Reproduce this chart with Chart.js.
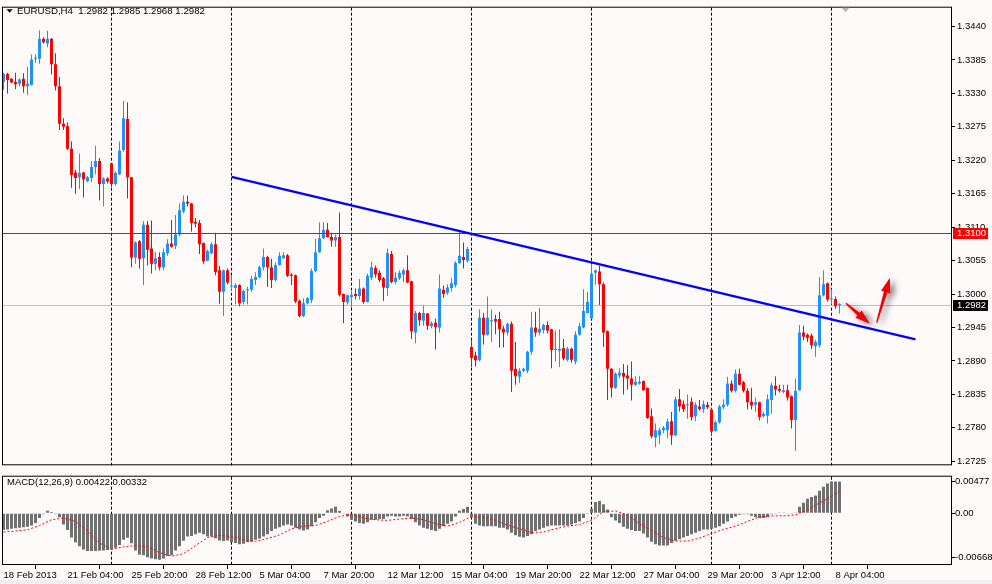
<!DOCTYPE html>
<html><head><meta charset="utf-8">
<script src="https://cdn.jsdelivr.net/npm/chart.js@4.4.1/dist/chart.umd.min.js"></script>
<style>
html,body{margin:0;padding:0;background:#FFFAFA;}
#wrap{position:relative;width:992px;height:584px;overflow:hidden;background:#FFFAFA;}
#c1{position:absolute;left:0;top:0;}
#c2{position:absolute;left:0;top:471px;}
#strip{position:absolute;left:0;top:580px;width:992px;height:4px;background:#F0F0F0;}
</style></head><body>
<div id="wrap"><div id="strip"></div><canvas id="c1" width="992" height="473"></canvas><canvas id="c2" width="992" height="113"></canvas></div>
<script>
// ---------- DATA ----------
const symbolTitle = "EURUSD,H4";
const macdTitle = "MACD(12,26,9) 0.00422 0.00332";
const opens = [
1.3349,1.3362,1.3354,1.3349,1.3346,1.3354,1.3342,1.3344,1.3387,1.3387,
1.3420,1.3412,1.3420,1.3378,1.3342,1.3280,1.3276,1.3239,1.3200,1.3192,
1.3200,1.3186,1.3191,1.3209,1.3219,1.3181,1.3190,1.3215,1.3181,1.3197,
1.3237,1.3288,1.3192,1.3060,1.3087,1.3059,1.3114,1.3075,1.3050,1.3061,
1.3044,1.3067,1.3083,1.3079,1.3098,1.3136,1.3152,1.3149,1.3119,1.3117,
1.3084,1.3055,1.3067,1.3082,1.3039,1.3004,1.3039,1.3012,1.3010,1.3015,
1.2987,1.3006,1.3007,1.3023,1.3028,1.3044,1.3061,1.3044,1.3023,1.3048,
1.3059,1.3064,1.3032,1.3031,1.2989,1.2964,1.2985,1.2990,1.3038,1.3069,
1.3092,1.3106,1.3094,1.3088,1.3094,1.3000,1.2986,1.2995,1.3000,1.2997,
1.3009,1.2987,1.3027,1.3043,1.3035,1.3026,1.3010,1.3066,1.3020,1.3026,
1.3032,1.3039,1.3021,1.2937,1.2969,1.2956,1.2968,1.2947,1.2953,1.2945,
1.3007,1.3002,1.3010,1.3015,1.3051,1.3061,1.3055,1.2913,1.2899,1.2891,
1.2961,1.2933,1.2955,1.2959,1.2959,1.2943,1.2937,1.2951,1.2877,1.2864,
1.2874,1.2874,1.2905,1.2945,1.2937,1.2941,1.2949,1.2942,1.2908,1.2907,
1.2911,1.2892,1.2910,1.2889,1.2933,1.2945,1.2969,1.2960,1.3035,1.3037,
1.3016,1.2939,1.2877,1.2846,1.2866,1.2870,1.2866,1.2861,1.2851,1.2853,
1.2857,1.2846,1.2799,1.2764,1.2768,1.2776,1.2776,1.2791,1.2768,1.2827,
1.2819,1.2817,1.2823,1.2799,1.2815,1.2811,1.2818,1.2810,1.2775,1.2789,
1.2814,1.2818,1.2853,1.2841,1.2869,1.2855,1.2841,1.2823,1.2818,1.2822,
1.2799,1.2800,1.2826,1.2849,1.2844,1.2839,1.2842,1.2832,1.2793,1.2842,
1.2937,1.2933,1.2932,1.2914,1.2916,1.2998,1.3018,1.2991,1.2992,1.2982];
const highs = [
1.3364,1.3364,1.3355,1.3364,1.3355,1.3363,1.3374,1.3394,1.3394,1.3434,
1.3422,1.3433,1.3421,1.3396,1.3357,1.3289,1.3282,1.3251,1.3204,1.3231,
1.3201,1.3194,1.3219,1.3244,1.3224,1.3192,1.3192,1.3215,1.3202,1.3251,
1.3318,1.3315,1.3192,1.3087,1.3089,1.3120,1.3120,1.3121,1.3069,1.3069,
1.3075,1.3090,1.3122,1.3130,1.3149,1.3162,1.3162,1.3150,1.3125,1.3122,
1.3085,1.3073,1.3085,1.3101,1.3046,1.3040,1.3042,1.3031,1.3018,1.3016,
1.3007,1.3012,1.3030,1.3036,1.3047,1.3075,1.3063,1.3058,1.3052,1.3069,
1.3069,1.3066,1.3034,1.3032,1.2991,1.2993,1.2995,1.3042,1.3091,1.3118,
1.3118,1.3117,1.3101,1.3098,1.3134,1.3001,1.2999,1.3007,1.3009,1.3025,
1.3011,1.3034,1.3053,1.3047,1.3039,1.3028,1.3075,1.3071,1.3036,1.3039,
1.3042,1.3064,1.3022,1.2972,1.2971,1.2981,1.2969,1.2955,1.2960,1.3032,
1.3014,1.3016,1.3027,1.3054,1.3105,1.3085,1.3078,1.2923,1.2905,1.2975,
1.2969,1.2996,1.2975,1.2966,1.2971,1.2948,1.2953,1.2955,1.2921,1.2878,
1.2879,1.2907,1.2971,1.2971,1.2977,1.2951,1.2955,1.2943,1.2940,1.2942,
1.2926,1.2913,1.2912,1.2939,1.2953,1.3008,1.3004,1.3050,1.3040,1.3046,
1.3019,1.2940,1.2878,1.2871,1.2878,1.2885,1.2883,1.2889,1.2865,1.2865,
1.2858,1.2846,1.2812,1.2787,1.2780,1.2783,1.2795,1.2806,1.2831,1.2844,
1.2825,1.2835,1.2830,1.2822,1.2826,1.2825,1.2823,1.2812,1.2792,1.2818,
1.2827,1.2864,1.2858,1.2876,1.2877,1.2857,1.2845,1.2846,1.2830,1.2823,
1.2806,1.2835,1.2854,1.2865,1.2851,1.2851,1.2851,1.2833,1.2861,1.2949,
1.2948,1.2935,1.2935,1.2925,1.3028,1.3039,1.3019,1.3008,1.2996,1.2985];
const lows = [
1.3336,1.3330,1.3347,1.3337,1.3342,1.3331,1.3327,1.3343,1.3380,1.3379,
1.3412,1.3406,1.3361,1.3335,1.3270,1.3270,1.3237,1.3175,1.3165,1.3173,
1.3159,1.3184,1.3184,1.3197,1.3154,1.3144,1.3182,1.3176,1.3178,1.3196,
1.3234,1.3157,1.3044,1.3050,1.3042,1.3015,1.3047,1.3034,1.3039,1.3039,
1.3039,1.3063,1.3076,1.3074,1.3095,1.3133,1.3144,1.3103,1.3110,1.3066,
1.3050,1.3054,1.3066,1.3031,1.2984,1.2964,1.3016,1.3007,1.2983,1.2980,
1.2983,1.2983,1.3004,1.3015,1.3026,1.3039,1.3012,1.3010,1.3021,1.3047,
1.3058,1.3028,1.3015,1.2985,1.2962,1.2962,1.2983,1.2985,1.3036,1.3068,
1.3090,1.3093,1.3078,1.3078,1.2996,1.2952,1.2983,1.2977,1.2991,1.2991,
1.2984,1.2986,1.3023,1.3027,1.3020,1.2989,1.2997,1.3018,1.3016,1.3023,
1.3020,1.3018,1.2926,1.2919,1.2948,1.2948,1.2941,1.2944,1.2909,1.2937,
1.2994,1.2999,1.3004,1.3011,1.3050,1.3042,1.3052,1.2880,1.2881,1.2889,
1.2917,1.2932,1.2921,1.2934,1.2912,1.2912,1.2932,1.2839,1.2851,1.2854,
1.2872,1.2870,1.2900,1.2930,1.2932,1.2935,1.2935,1.2878,1.2889,1.2880,
1.2891,1.2889,1.2887,1.2884,1.2932,1.2944,1.2968,1.2959,1.3015,1.2982,
1.2913,1.2826,1.2830,1.2844,1.2862,1.2835,1.2843,1.2825,1.2849,1.2851,
1.2841,1.2795,1.2763,1.2748,1.2753,1.2771,1.2763,1.2752,1.2766,1.2807,
1.2806,1.2795,1.2792,1.2791,1.2808,1.2805,1.2811,1.2768,1.2774,1.2787,
1.2811,1.2815,1.2838,1.2838,1.2850,1.2838,1.2810,1.2810,1.2806,1.2792,
1.2797,1.2787,1.2803,1.2833,1.2838,1.2837,1.2825,1.2779,1.2742,1.2841,
1.2924,1.2921,1.2910,1.2897,1.2912,1.2996,1.2988,1.2983,1.2976,1.2968];
const closes = [
1.3362,1.3352,1.3348,1.3345,1.3353,1.3342,1.3346,1.3386,1.3388,1.3420,
1.3414,1.3420,1.3378,1.3342,1.3280,1.3275,1.3239,1.3196,1.3191,1.3199,
1.3189,1.3192,1.3209,1.3219,1.3181,1.3190,1.3185,1.3181,1.3199,1.3236,
1.3289,1.3192,1.3060,1.3085,1.3058,1.3114,1.3073,1.3050,1.3059,1.3044,
1.3069,1.3083,1.3078,1.3098,1.3138,1.3152,1.3149,1.3117,1.3116,1.3082,
1.3054,1.3071,1.3082,1.3036,1.3004,1.3039,1.3019,1.3013,1.3015,1.2985,
1.3005,1.3008,1.3025,1.3028,1.3044,1.3061,1.3044,1.3023,1.3048,1.3063,
1.3064,1.3030,1.3030,1.2988,1.2964,1.2985,1.2993,1.3038,1.3069,1.3092,
1.3106,1.3094,1.3088,1.3094,1.2999,1.2987,1.2998,1.2999,1.2997,1.3009,
1.2987,1.3030,1.3044,1.3032,1.3023,1.3011,1.3067,1.3020,1.3027,1.3035,
1.3039,1.3019,1.2939,1.2969,1.2957,1.2969,1.2948,1.2952,1.2946,1.3009,
1.3000,1.3011,1.3018,1.3051,1.3063,1.3056,1.3074,1.2895,1.2891,1.2961,
1.2933,1.2961,1.2957,1.2955,1.2942,1.2937,1.2951,1.2874,1.2865,1.2874,
1.2877,1.2905,1.2945,1.2937,1.2943,1.2949,1.2940,1.2908,1.2910,1.2910,
1.2894,1.2910,1.2892,1.2933,1.2947,1.2972,1.2987,1.3034,1.3039,1.3016,
1.2937,1.2877,1.2846,1.2869,1.2871,1.2864,1.2861,1.2851,1.2856,1.2856,
1.2842,1.2796,1.2766,1.2776,1.2776,1.2780,1.2790,1.2768,1.2827,1.2815,
1.2811,1.2819,1.2798,1.2818,1.2811,1.2819,1.2814,1.2774,1.2789,1.2815,
1.2818,1.2853,1.2841,1.2869,1.2851,1.2841,1.2822,1.2817,1.2822,1.2798,
1.2803,1.2827,1.2850,1.2843,1.2841,1.2842,1.2830,1.2793,1.2841,1.2937,
1.2930,1.2928,1.2916,1.2921,1.2998,1.3016,1.2991,1.2992,1.2980,1.2982];
const macd = [
-0.00253,-0.00243,-0.00233,-0.00224,-0.00219,-0.00209,-0.00204,-0.00185,-0.00146,-0.00073,
-0.00015,0.00039,0.00019,-0.00015,-0.00058,-0.00170,-0.00253,-0.00365,-0.00437,-0.00496,
-0.00544,-0.00569,-0.00569,-0.00569,-0.00564,-0.00559,-0.00554,-0.00544,-0.00520,-0.00476,
-0.00399,-0.00369,-0.00452,-0.00559,-0.00622,-0.00632,-0.00661,-0.00680,-0.00690,-0.00700,
-0.00680,-0.00642,-0.00632,-0.00559,-0.00496,-0.00413,-0.00350,-0.00340,-0.00316,-0.00292,
-0.00316,-0.00350,-0.00350,-0.00374,-0.00408,-0.00418,-0.00408,-0.00437,-0.00447,-0.00467,
-0.00457,-0.00437,-0.00428,-0.00399,-0.00379,-0.00350,-0.00316,-0.00267,-0.00233,-0.00209,
-0.00185,-0.00170,-0.00185,-0.00219,-0.00243,-0.00258,-0.00243,-0.00194,-0.00136,-0.00073,
-0.00039,0.00044,0.00073,0.00097,0.00034,-0.00010,-0.00049,-0.00097,-0.00122,-0.00146,
-0.00156,-0.00136,-0.00097,-0.00097,-0.00087,-0.00087,-0.00049,-0.00039,-0.00049,-0.00049,
-0.00039,-0.00049,-0.00087,-0.00136,-0.00185,-0.00219,-0.00233,-0.00253,-0.00267,-0.00233,
-0.00194,-0.00156,-0.00122,-0.00049,0.00039,0.00063,0.00097,-0.00063,-0.00156,-0.00185,
-0.00194,-0.00194,-0.00194,-0.00194,-0.00219,-0.00219,-0.00243,-0.00292,-0.00330,-0.00355,
-0.00365,-0.00340,-0.00316,-0.00267,-0.00243,-0.00219,-0.00194,-0.00185,-0.00185,-0.00185,
-0.00185,-0.00185,-0.00170,-0.00146,-0.00122,-0.00073,-0.00010,0.00073,0.00170,0.00185,
0.00136,0.00058,-0.00058,-0.00107,-0.00146,-0.00204,-0.00233,-0.00253,-0.00267,-0.00267,
-0.00306,-0.00365,-0.00428,-0.00467,-0.00486,-0.00486,-0.00486,-0.00447,-0.00413,-0.00389,
-0.00365,-0.00340,-0.00316,-0.00292,-0.00267,-0.00243,-0.00243,-0.00233,-0.00219,-0.00194,
-0.00156,-0.00122,-0.00073,-0.00049,-0.00024,-0.00015,-0.00015,-0.00039,-0.00058,-0.00073,
-0.00073,-0.00058,-0.00015,-0.00010,0.00010,0.00010,-0.00005,-0.00005,0.00005,0.00097,
0.00160,0.00219,0.00243,0.00267,0.00340,0.00399,0.00447,0.00476,0.00477,0.00477];
const signalBars = [0,3,6,9,12,15,18,21,24,27,30,33,36,39,42,45,48,51,54,57,60,63,66,69,72,75,78,81,84,87,90,93,96,99,102,105,108,111,114,117,120,123,126,129,132,135,138,141,144,147,150,153,156,159,162,165,168,171,174,177,180,183,186,189,192,195,198,201,204,207,209];
const signalValues = [-0.00282,-0.00267,-0.00248,-0.00185,-0.00097,-0.00073,-0.00122,-0.00267,-0.00447,-0.00544,-0.00505,-0.00486,-0.00501,-0.00593,-0.00646,-0.00608,-0.00486,-0.00365,-0.00330,-0.00355,-0.00399,-0.00423,-0.00379,-0.00326,-0.00233,-0.00194,-0.00185,-0.00122,-0.00049,-0.00015,-0.00073,-0.00097,-0.00107,-0.00087,-0.00073,-0.00097,-0.00156,-0.00194,-0.00136,-0.00049,-0.00063,-0.00107,-0.00180,-0.00233,-0.00292,-0.00282,-0.00233,-0.00194,-0.00170,-0.00107,0.00024,0.00034,-0.00024,-0.00156,-0.00258,-0.00365,-0.00418,-0.00418,-0.00374,-0.00301,-0.00243,-0.00194,-0.00122,-0.00058,-0.00039,-0.00039,-0.00024,0.00049,0.00156,0.00258,0.00332];
const timeLabelBars = [0,16,32,48,64,80,96,112,128,144,160,176,192,208];
const timeLabels = ["18 Feb 2013","21 Feb 04:00","25 Feb 20:00","28 Feb 12:00","5 Mar 04:00","7 Mar 20:00","12 Mar 12:00","15 Mar 04:00","19 Mar 20:00","22 Mar 12:00","27 Mar 04:00","29 Mar 20:00","3 Apr 12:00","8 Apr 04:00"];
const separatorBars = [27,57,87,117,147,177,207];
const priceTicks = [1.3440,1.3385,1.3330,1.3275,1.3220,1.3165,1.3110,1.3055,1.3000,1.2945,1.2890,1.2835,1.2780,1.2725];
const macdTicks = [0.00477,0.0,-0.00668];
const macdTickLabels = ["0.00477","0.00","-0.00668"];
const levelLine = 1.3100;
const bidPrice = 1.2982;
const trendStart = [57,1.31928];
const trendEnd = [228,1.29255];
const arrowStarts = [[210.6,1.2985],[218.3,1.2953]];
const arrowEnds = [[216.6,1.2951],[221.6,1.3027]];
const shiftMarkerBar = 210.5;

// ---------- SCALES / STYLE ----------
const X_MIN = -0.375, X_MAX = 237.125;
const P_MIN = 1.27184, P_MAX = 1.34710;
const M_MIN = -0.00778, M_MAX = 0.00550;
const BULL = '#1E90FF', BEAR = '#FF0000';
const FONT = '"Liberation Sans", Arial, sans-serif';
Chart.defaults.font.family = FONT;
Chart.defaults.font.size = 9.5;
Chart.defaults.color = '#000';

const bars = opens.map((_, i) => i);
const candleColors = bars.map(i => closes[i] >= opens[i] ? BULL : BEAR);

function fmt4(v){ return v.toFixed(4); }

function drawSeparators(chart){
  const {ctx, chartArea:a} = chart;
  ctx.save();
  ctx.strokeStyle = '#000'; ctx.lineWidth = 1; ctx.setLineDash([3,2]);
  separatorBars.forEach(k => {
    const x = Math.floor(chart.scales.x.getPixelForValue(k)) + 0.5;
    ctx.beginPath(); ctx.moveTo(x, a.top); ctx.lineTo(x, a.bottom); ctx.stroke();
  });
  ctx.restore();
}
function drawFrame(chart){
  const {ctx, chartArea:a} = chart;
  ctx.save(); ctx.strokeStyle = '#000'; ctx.lineWidth = 1; ctx.setLineDash([]);
  ctx.strokeRect(a.left + 0.5, a.top - 0.5, a.right - a.left - 1, a.bottom - a.top);
  ctx.restore();
}
// tapered arrow: thin tail, thicker near head, long narrow head
function drawArrow(ctx, x1, y1, x2, y2){
  const ang = Math.atan2(y2 - y1, x2 - x1), hl = 15, hw = 4.8, tw = 0.7, nw = 1.8;
  const c = Math.cos(ang), s = Math.sin(ang);
  const bx = x2 - hl * c, by = y2 - hl * s;
  ctx.beginPath();
  ctx.moveTo(x1 + tw * s, y1 - tw * c);
  ctx.lineTo(bx + nw * s, by - nw * c);
  ctx.lineTo(bx + hw * s, by - hw * c);
  ctx.lineTo(x2, y2);
  ctx.lineTo(bx - hw * s, by + hw * c);
  ctx.lineTo(bx - nw * s, by + nw * c);
  ctx.lineTo(x1 - tw * s, y1 + tw * c);
  ctx.closePath(); ctx.fill();
}

const mainPlugin = {
  id: 'mainDeco',
  beforeDatasetsDraw(chart){
    const {ctx, chartArea:a, scales} = chart;
    drawSeparators(chart);
    const yb = Math.round(scales.y.getPixelForValue(bidPrice));
    ctx.save(); ctx.fillStyle = '#C0C0C0';
    ctx.fillRect(a.left, yb, a.right - a.left, 1);
    ctx.restore();
  },
  afterDatasetsDraw(chart){
    const {ctx, chartArea:a, scales} = chart;
    const X = v => scales.x.getPixelForValue(v), Y = v => scales.y.getPixelForValue(v);
    ctx.save();
    // level line
    ctx.fillStyle = 'rgb(255,0,0)';
    ctx.fillRect(a.left, Math.round(Y(levelLine)), a.right - a.left, 1);
    // trend line
    ctx.strokeStyle = '#0000FF'; ctx.lineWidth = 2.4; ctx.setLineDash([]);
    ctx.beginPath(); ctx.moveTo(X(trendStart[0]), Y(trendStart[1])); ctx.lineTo(X(trendEnd[0]), Y(trendEnd[1])); ctx.stroke();
    // arrows with shadow
    ctx.fillStyle = '#F00000';
    ctx.shadowColor = 'rgba(0,0,0,0.55)'; ctx.shadowBlur = 6; ctx.shadowOffsetX = 4; ctx.shadowOffsetY = 2;
    arrowStarts.forEach((st, i) => {
      const e = arrowEnds[i];
      drawArrow(ctx, X(st[0]), Y(st[1]), X(e[0]), Y(e[1]));
    });
    ctx.restore();
  },
  afterDraw(chart){
    const {ctx, chartArea:a, scales} = chart;
    drawFrame(chart);
    ctx.save();
    // shift marker
    const sx = scales.x.getPixelForValue(shiftMarkerBar);
    ctx.fillStyle = '#B8B8B8';
    ctx.beginPath(); ctx.moveTo(sx - 4, a.top); ctx.lineTo(sx + 4, a.top); ctx.lineTo(sx, a.top + 4.5); ctx.closePath(); ctx.fill();
    // header
    ctx.fillStyle = '#000';
    ctx.beginPath(); ctx.moveTo(6.5, 9.3); ctx.lineTo(12.7, 9.3); ctx.lineTo(9.6, 12.8); ctx.closePath(); ctx.fill();
    ctx.font = '9.7px ' + FONT; ctx.textBaseline = 'middle'; ctx.textAlign = 'left';
    const last = opens.length - 1;
    ctx.fillText(symbolTitle + '  ' + [opens[last], highs[last], lows[last], closes[last]].map(fmt4).join(' '), 17, 11.5);
    // price labels
    ctx.font = '9.5px ' + FONT;
    const boxes = [[levelLine, '#FF0000'], [bidPrice, '#000000']];
    boxes.forEach(([p, col]) => {
      const y = scales.y.getPixelForValue(p);
      ctx.fillStyle = col; ctx.fillRect(a.right + 1, Math.round(y) - 5, 35, 11);
      ctx.fillStyle = '#FFFFFF'; ctx.fillText(fmt4(p), a.right + 5, Math.round(y) + 0.5);
    });
    ctx.restore();
  }
};

const macdPlugin = {
  id: 'macdDeco',
  beforeDatasetsDraw(chart){ drawSeparators(chart); },
  afterDraw(chart){
    const {ctx} = chart;
    drawFrame(chart);
    ctx.save(); ctx.fillStyle = '#000'; ctx.font = '9.5px ' + FONT; ctx.textBaseline = 'middle';
    ctx.fillText(macdTitle, 7, 11.5);
    ctx.restore();
  }
};

new Chart(document.getElementById('c1'), {
  type: 'bar',
  data: { datasets: [
    { label: 'wick', data: bars.map(k => ({x: k, y: [lows[k], highs[k]]})), backgroundColor: candleColors,
      barThickness: 1, grouped: false, order: 2, borderWidth: 0, inflateAmount: 0 },
    { label: 'body', data: bars.map(k => ({x: k, y: [opens[k], closes[k]]})), backgroundColor: candleColors,
      barThickness: 3, minBarLength: 1, grouped: false, order: 1, borderWidth: 0, inflateAmount: 0 }
  ]},
  options: {
    responsive: false, animation: false, devicePixelRatio: 1,
    layout: { padding: { left: 2, top: 3, right: 0, bottom: 2 }, autoPadding: false },
    plugins: { legend: { display: false }, tooltip: { enabled: false } },
    scales: {
      x: { type: 'linear', min: X_MIN, max: X_MAX, display: false, offset: false },
      y: { position: 'right', min: P_MIN, max: P_MAX,
        afterFit(s){ s.width = 40; },
        afterBuildTicks(s){ s.ticks = priceTicks.map(v => ({value: v})); },
        ticks: { callback: v => fmt4(v), padding: 2, autoSkip: false, color: '#000', font: {size: 9.5} },
        grid: { drawOnChartArea: false, drawTicks: true, tickLength: 3, color: '#000' },
        border: { display: false } }
    }
  },
  plugins: [mainPlugin]
});

new Chart(document.getElementById('c2'), {
  type: 'bar',
  data: { datasets: [
    { type: 'line', label: 'signal', data: signalBars.map((k, i) => ({x: k, y: signalValues[i]})),
      borderColor: '#FF0000', borderWidth: 1, borderDash: [2, 2], pointRadius: 0, tension: 0, order: 0 },
    { label: 'macd', data: bars.map(k => ({x: k, y: macd[k]})), backgroundColor: '#707070',
      barThickness: 3, grouped: false, order: 1, borderWidth: 0, inflateAmount: 0 }
  ]},
  options: {
    responsive: false, animation: false, devicePixelRatio: 1,
    layout: { padding: { left: 2, top: 3, right: 0, bottom: 0 }, autoPadding: false },
    plugins: { legend: { display: false }, tooltip: { enabled: false } },
    scales: {
      x: { type: 'linear', min: X_MIN, max: X_MAX, offset: false, position: 'bottom',
        afterFit(s){ s.height = 19; },
        afterBuildTicks(s){ s.ticks = timeLabelBars.map(v => ({value: v})); },
        ticks: { callback: v => timeLabels[timeLabelBars.indexOf(v)], align: 'start', padding: 1, autoSkip: false, maxRotation: 0, minRotation: 0, color: '#000', font: {size: 9.5} },
        grid: { drawOnChartArea: false, drawTicks: true, tickLength: 4, color: '#000' },
        border: { display: false } },
      y: { position: 'right', min: M_MIN, max: M_MAX,
        afterFit(s){ s.width = 40; },
        afterBuildTicks(s){ s.ticks = macdTicks.map(v => ({value: v})); },
        ticks: { callback: v => macdTickLabels[macdTicks.indexOf(v)], padding: 0, autoSkip: false, color: '#000', font: {size: 9.5} },
        grid: { drawOnChartArea: false, drawTicks: true, tickLength: 3, color: '#000' },
        border: { display: false } }
    }
  },
  plugins: [macdPlugin]
});
</script>
</body></html>
